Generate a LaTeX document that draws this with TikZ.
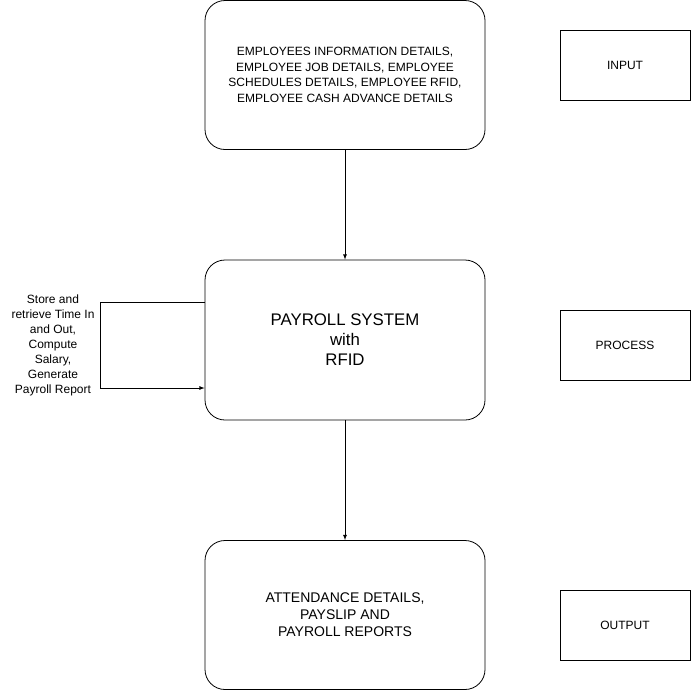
\documentclass[tikz,border=0pt]{standalone}
\usepackage{fontspec}
\setmainfont{Liberation Sans}
\usetikzlibrary{positioning,arrows}
\tikzstyle{stage}=[draw, rounded corners=20pt, minimum width=280pt, inner sep=0pt, align=center, line width=0.8pt]
\tikzstyle{tag}=[draw, minimum width=130pt, minimum height=70pt, inner sep=0pt, line width=0.8pt, font=\fontsize{12}{15}\selectfont]

\begin{document}
\begin{tikzpicture}[x=1pt,y=-1pt,>=latex,line width=0.8pt]
\useasboundingbox (0,0) rectangle (691,691);

\node[stage, minimum height=149pt, font=\fontsize{12}{15.5}\selectfont] at (345,75) (inputs) {EMPLOYEES INFORMATION DETAILS,\\EMPLOYEE JOB DETAILS, EMPLOYEE\\SCHEDULES DETAILS, EMPLOYEE RFID,\\EMPLOYEE CASH ADVANCE DETAILS};
\node[stage, minimum height=160pt, font=\fontsize{16.8}{20}\selectfont] at (345,340) (payroll) {PAYROLL SYSTEM\\with\\RFID};
\node[stage, minimum height=149pt, font=\fontsize{14}{17}\selectfont] at (345,615) (outputs) {ATTENDANCE DETAILS,\\PAYSLIP AND\\PAYROLL REPORTS};

\node[tag] at (625,65) (input) {INPUT};
\node[tag] at (625,345) (process) {PROCESS};
\node[tag] at (625,625) (output) {OUTPUT};

\draw[->] (inputs) -- (payroll);
\draw[->] (payroll) -- (outputs);

% loop back into the system
\draw[->] ([yshift=38pt]payroll.west) -- ++(-104pt,0) |- ([yshift=-48pt]payroll.west);
\node[align=center, font=\fontsize{12}{15}\selectfont] at (53,345) (loopnote) {Store and\\retrieve Time In\\and Out,\\Compute\\Salary,\\Generate\\Payroll Report};
\end{tikzpicture}
\end{document}
